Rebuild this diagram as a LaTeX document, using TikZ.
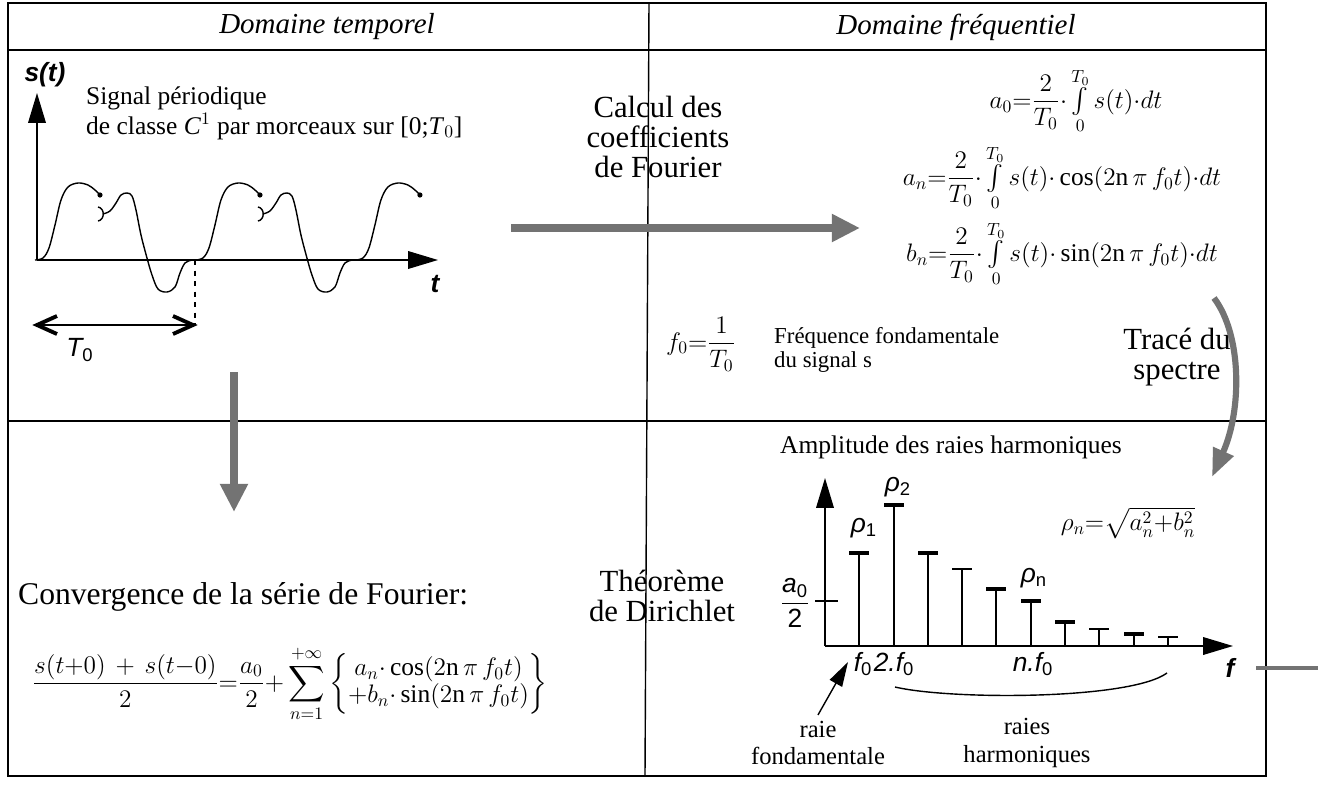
\documentclass[tikz,border=0pt]{standalone}
\usepackage{amsmath}
\usepackage{fontspec}
\setmainfont{Liberation Serif}
\newfontfamily\sansf{Liberation Sans}
\usetikzlibrary{arrows.meta}
\newcommand{\Intz}{\mathop{\textstyle\int}\limits_{0}^{T_0}}
\newcommand{\dt}{{\cdot}}
\tikzset{
 frame/.style={line width=0.8pt},
 hdr/.style={font=\fontsize{16.5}{19}\selectfont\itshape},
 big/.style={font=\fontsize{17.5}{17}\selectfont, align=center},
 txt/.style={font=\fontsize{14.5}{17}\selectfont, align=left},
 small/.style={font=\fontsize{13}{13.5}\selectfont, align=left},
 lbl/.style={font=\fontsize{14}{15.5}\selectfont, align=center},
 eq/.style={font=\fontsize{14.5}{16}\selectfont},
 axisarr/.style={line width=0.9pt, -{Triangle[length=17pt,width=10pt]}},
 garrow/.style={black!55, line width=4.5pt, -{Triangle[length=16pt,width=15pt]}},
 stem/.style={line width=0.8pt},
 sig/.style={line width=0.8pt},
 sl/.style={font=\fontsize{15}{17}\selectfont\sansf\itshape},
 slb/.style={font=\fontsize{15}{17}\selectfont\sansf\bfseries\itshape},
}
\begin{document}
\begin{tikzpicture}[x=0.02cm,y=-0.02cm]
\useasboundingbox (0,0) rectangle (1323,785);
\fill[white] (0,0) rectangle (1323,785);
% frame
\draw[frame] (8,3) rectangle (1266,776);
\draw[frame] (8,50) -- (1266,50);
\draw[frame] (8,421) -- (1266,421);
\draw[frame] (649,3) -- (645,776);
% headers
\node[hdr] (h1) at (327,27) {Domaine temporel};
\node[hdr] (h2) at (956,27) {Domaine fréquentiel};
% ---------- time domain ----------
\coordinate (O1) at (37,260);
\coordinate (yt) at (37,93);
\coordinate (xt) at (438,260);
\draw[axisarr] (O1) -- (yt);
\draw[axisarr] (O1) -- (xt);
\node[slb] (st) at (45,75) {s(t)};
\node[slb] (tl) at (435,284) {t};
\node[txt, anchor=west] (sig) at (80,113) {Signal périodique\\de classe \textit{C}$^1$ par morceaux sur [0;\textit{T}$_0$]};
% signal
\foreach \s in {0,3.2} {
\begin{scope}[xshift=\s cm]
\draw[sig] plot[smooth, tension=0.55] coordinates {(35,260) (43,258) (49,248) (55,225) (61,200) (68,187) (78,183) (88,185) (95,190) (100,195)};
\fill (100,195) circle (2.6);
\draw[sig] (98,207) .. controls (105,208) and (105,220) .. (98,221);
\draw[sig] plot[smooth, tension=0.55] coordinates {(103,214) (110,211) (116,203) (121,195) (127,193) (132,196) (136,210) (141,235) (147,258) (152,275) (158,289) (167,292) (175,287) (180,273) (185,263) (192,260) (195,260)};
\end{scope}
}
\begin{scope}[xshift=6.4cm]
\draw[sig] plot[smooth, tension=0.55] coordinates {(35,260) (43,258) (49,248) (55,225) (61,200) (68,187) (78,183) (88,185) (95,190) (100,195)};
\fill (100,195) circle (2.6);
\end{scope}
\coordinate (d1) at (195,260);
\coordinate (d2) at (195,325);
\draw[dashed, line width=0.6pt] (d1) -- (d2);
\coordinate (T0a) at (37,325);
\coordinate (T0b) at (193,325);
\draw[line width=0.6pt] (T0a) -- (T0b);
\draw[line width=2.2pt] (57,316) -- (T0a) -- (57,334);
\draw[line width=2.2pt] (173,316) -- (T0b) -- (173,334);
\node[sl] (T0l) at (80,350) {T\textsubscript{\upshape 0}};
% down arrow
\coordinate (va1) at (234,372);
\coordinate (va2) at (234,512);
\draw[garrow] (va1) -- (va2);
\node[font=\fontsize{18}{20}\selectfont, anchor=west] (conv) at (12,597) {Convergence de la série de Fourier:};
\node[font=\fontsize{14.5}{15}\selectfont] (serie) at (290,684) {$\displaystyle \frac{s(t{+}0)\,+\,s(t{-}0)}{2}{=}\frac{a_0}{2}{+}\sum_{n=1}^{+\infty}\left\{\begin{array}{@{}c@{}} a_n\dt\cos(2\mathrm{n}\,\pi\, f_0 t)\\ {+}b_n\dt\sin(2\mathrm{n}\,\pi\, f_0 t)\end{array}\right\}$};
% ---------- frequency domain ----------
\node[big] (calc) at (658,137) {Calcul des\\coefficients\\de Fourier};
\coordinate (ha1) at (511,228);
\coordinate (ha2) at (860,228);
\draw[garrow] (ha1) -- (ha2);
\node[eq] (a0) at (1076,101) {$\displaystyle a_0{=}\frac{2}{T_0}\dt\Intz s(t)\dt dt$};
\node[eq] (an) at (1062,178) {$\displaystyle a_n{=}\frac{2}{T_0}\dt\Intz s(t)\dt\cos(2\mathrm{n}\,\pi\, f_0 t)\dt dt$};
\node[eq] (bn) at (1062,254) {$\displaystyle b_n{=}\frac{2}{T_0}\dt\Intz s(t)\dt\sin(2\mathrm{n}\,\pi\, f_0 t)\dt dt$};
\node[eq, anchor=west] (f0eq) at (660,344) {$\displaystyle f_0{=}\frac{1}{T_0}$};
\node[small, anchor=west] (freq) at (768,350) {Fréquence fondamentale\\du signal s};
\node[big] (trace) at (1177,357) {Tracé du\\spectre};
\coordinate (ca1) at (1214,298);
\coordinate (ca2) at (1212,477);
\draw[garrow, line width=3.5pt, -{Triangle[length=16pt,width=12pt]}] (ca1) .. controls (1242,335) and (1242,410) .. (ca2);
\node[big] (theo) at (662,596) {Théorème\\de Dirichlet};
\node[font=\fontsize{14.5}{17}\selectfont] (ampl) at (951,447) {Amplitude des raies harmoniques};
% spectrum
\coordinate (O2) at (825,646);
\coordinate (yf) at (825,478);
\coordinate (xf) at (1233,646);
\draw[axisarr] (O2) -- (yf);
\draw[axisarr] (O2) -- (xf);
\draw[stem] (815,601) -- (838,601);
\foreach \x/\h/\w in {859/553/1.8, 894/505/2.2, 928/553/1.8, 962/569/1.0, 996/589/1.8, 1031/601/2.2, 1065/622/2.2, 1099/629/1.0, 1134/634/2.2, 1168/637/1.0} {
  \draw[stem] (\x,646) -- (\x,\h);
  \draw[line width=\w pt] (\x-10,\h) -- (\x+10,\h);
}
\node[font=\fontsize{15}{17}\selectfont\sansf] (a0l) at (795,603) {$\dfrac{\text{\sansf\itshape a\textsubscript{\upshape 0}}}{\text{\sansf 2}}$};
\node[sl] (r1) at (864,528) {ρ\textsubscript{\upshape 1}};
\node[sl] (r2) at (898,487) {ρ\textsubscript{\upshape 2}};
\node[sl] (rn) at (1034,578) {ρ\textsubscript{\upshape n}};
\node[eq] (rhon) at (1128,523) {$\rho_n{=}\sqrt{a_n^2{+}b_n^2}$};
\node[sl] (f0l) at (863,664) {f\textsubscript{\upshape 0}};
\node[sl] (f02) at (894,664) {2.f\textsubscript{\upshape 0}};
\node[sl] (fn) at (1033,664) {n.f\textsubscript{\upshape 0}};
\node[slb] (fl) at (1230,668) {f};
\draw[black!55, line width=2.5pt] (1256,668) -- (1318,668);
\node[lbl] (raie) at (818,743) {raie\\fondamentale};
\node[lbl] (raies) at (1027,743) {raies\\harmoniques};
\coordinate (ftip) at (848,662);
\draw[line width=0.8pt, -{Triangle[length=14pt,width=8pt]}] (raie.north) -- (ftip);
\coordinate (bl) at (895,687);
\coordinate (br) at (1167,673);
\draw[line width=0.8pt] (bl) .. controls (950,700) and (1130,700) .. (br);
\end{tikzpicture}
\end{document}
